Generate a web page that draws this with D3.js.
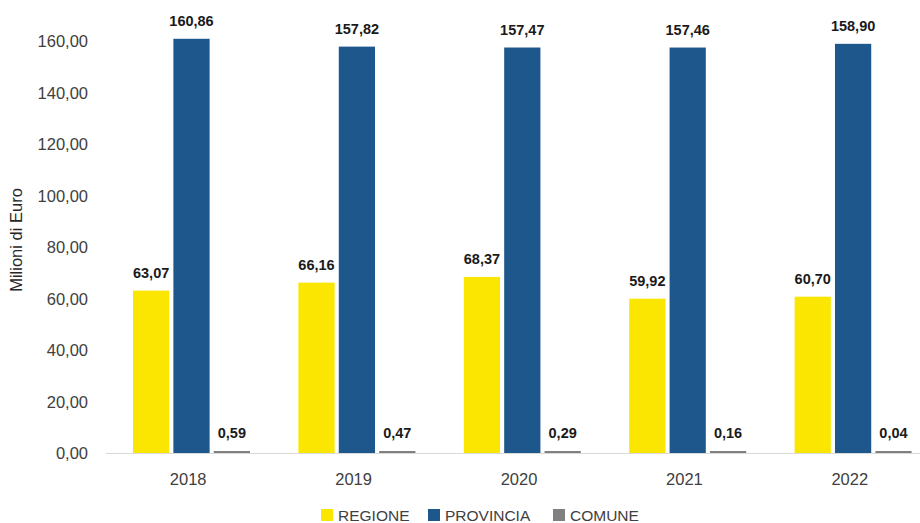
<!DOCTYPE html>
<html>
<head>
<meta charset="utf-8">
<script src="https://cdn.jsdelivr.net/npm/d3@7"></script>
<style>
  body { margin: 0; background: #fff; }
  svg { display: block; font-family: "Liberation Sans", Arial, sans-serif; }
</style>
</head>
<body>
<svg id="chart"></svg>
<script>
const years = ["2018", "2019", "2020", "2021", "2022"];
const seriesNames = ["REGIONE", "PROVINCIA", "COMUNE"];
const regione = [63.07, 66.16, 68.37, 59.92, 60.70];
const provincia = [160.86, 157.82, 157.47, 157.46, 158.90];
const comune = [0.59, 0.47, 0.29, 0.16, 0.04];
const yTicks = [0, 20, 40, 60, 80, 100, 120, 140, 160];
const colors = ["#fae600", "#1d578b", "#808080"];

const W = 920, H = 523;
const svg = d3.select("#chart").attr("width", W).attr("height", H);

const x = d3.scaleBand().domain(years).range([106, 933]).padding(0);
const inner = d3.scaleBand().domain(seriesNames).range([27, 27 + 3 * 39]).paddingInner(4 / 39);
const y = d3.scaleLinear().domain([0, 160]).range([453, 41]);

const fmt = v => v.toFixed(2).replace(".", ",");

// y tick labels
svg.append("g")
  .selectAll("text")
  .data(yTicks)
  .join("text")
  .attr("x", 88)
  .attr("y", d => y(d) + 6)
  .attr("text-anchor", "end")
  .style("font-size", "16.5px")
  .style("fill", "#404040")
  .text(d => fmt(d));

// y axis title
svg.append("text")
  .attr("transform", "translate(22,240) rotate(-90)")
  .attr("text-anchor", "middle")
  .style("font-size", "16.5px")
  .style("fill", "#262626")
  .text("Milioni di Euro");

const table = years.map((yr, i) => ({
  year: yr,
  vals: [regione[i], provincia[i], comune[i]]
}));

const groups = svg.append("g")
  .selectAll("g")
  .data(table)
  .join("g")
  .attr("transform", d => `translate(${x(d.year)},0)`);

groups.selectAll("rect")
  .data(d => d.vals.map((v, j) => ({ name: seriesNames[j], v: v, j: j })))
  .join("rect")
  .attr("x", d => inner(d.name))
  .attr("width", inner.bandwidth())
  .attr("y", d => Math.min(y(d.v), y(0) - 2))
  .attr("height", d => Math.max(y(0) - y(d.v), 2))
  .attr("fill", d => colors[d.j]);

groups.selectAll("text")
  .data(d => d.vals.map((v, j) => ({ name: seriesNames[j], v: v })))
  .join("text")
  .attr("x", d => inner(d.name) + inner.bandwidth() / 2)
  .attr("y", d => Math.min(y(d.v), y(0) - 2) - 13)
  .attr("text-anchor", "middle")
  .style("font-size", "14.5px")
  .style("font-weight", "bold")
  .style("fill", "#1a1a1a")
  .text(d => fmt(d.v));

// baseline
svg.append("line")
  .attr("x1", 106).attr("x2", 933)
  .attr("y1", y(0) + 0.5).attr("y2", y(0) + 0.5)
  .attr("stroke", "#d9d9d9")
  .attr("stroke-width", 1);

// year labels
svg.append("g")
  .selectAll("text")
  .data(years)
  .join("text")
  .attr("x", d => x(d) + x.bandwidth() / 2 - 0.5)
  .attr("y", 485)
  .attr("text-anchor", "middle")
  .style("font-size", "16.5px")
  .style("fill", "#404040")
  .text(d => d);

// legend
const legendX = [321, 428, 553];
const legend = svg.append("g")
  .selectAll("g")
  .data(seriesNames)
  .join("g")
  .attr("transform", (d, i) => `translate(${legendX[i]},509)`);

legend.append("rect")
  .attr("width", 12).attr("height", 12)
  .attr("fill", (d, i) => colors[i]);

legend.append("text")
  .attr("x", 17)
  .attr("y", 12)
  .style("font-size", "15.5px")
  .style("fill", "#404040")
  .text(d => d);
</script>
</body>
</html>
